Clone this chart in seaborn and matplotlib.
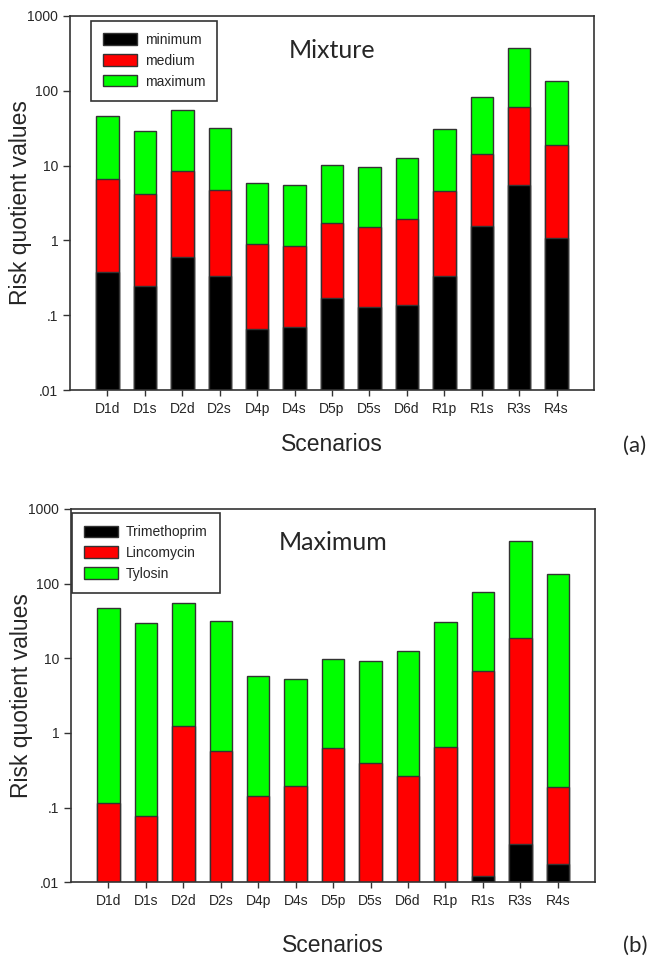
import numpy as np
import matplotlib.pyplot as plt
import pandas as pd
import seaborn as sns
from matplotlib.patches import Patch

scenarios = ["D1d", "D1s", "D2d", "D2s", "D4p", "D4s", "D5p", "D5s", "D6d", "R1p", "R1s", "R3s", "R4s"]

# panel (a): mixture risk quotients
mix_min = [0.38, 0.243, 0.605, 0.33, 0.066, 0.069, 0.169, 0.128, 0.138, 0.33, 1.55, 5.55, 1.07]
mix_med = [6.6, 4.12, 8.36, 4.76, 0.893, 0.849, 1.72, 1.51, 1.91, 4.57, 14.3, 61.2, 18.8]
mix_max = [46.4, 29.0, 55.8, 32.1, 5.84, 5.44, 10.3, 9.55, 12.7, 30.8, 82.5, 376, 133.6]

# panel (b): maximum scenario per compound (trimethoprim below .01 where nan)
trimethoprim = [np.nan] * 10 + [0.0123, 0.033, 0.0174]
lincomycin = [0.117, 0.078, 1.24, 0.58, 0.145, 0.193, 0.636, 0.393, 0.263, 0.656, 6.7, 18.7, 0.189]
tylosin = [47.7, 29.7, 55.1, 31.9, 5.8, 5.28, 9.8, 9.2, 12.7, 30.3, 76.6, 369, 133]

ytick_vals = [0.01, 0.1, 1, 10, 100, 1000]
ytick_labels = [".01", ".1", "1", "10", "100", "1000"]

sns.set_style("ticks")
plt.rcParams['font.family'] = ['Liberation Sans', 'DejaVu Sans']

edge = "#333333"
fig = plt.figure(figsize=(6.52, 9.58), dpi=100)
ax1 = fig.add_axes([0.1074, 0.5929, 0.8037, 0.3904])
ax2 = fig.add_axes([0.1089, 0.0790, 0.8041, 0.3897])


def panel(ax, layers, title, anchor, xlab_y):
    # tallest layer first so the smaller ones sit on top of it
    for vals, col, name in layers:
        df = pd.DataFrame({"scenario": scenarios, "value": vals})
        sns.barplot(data=df, x="scenario", y="value", color=col, saturation=1,
                    width=0.6, edgecolor=edge, linewidth=1, ax=ax)
    ax.set_yscale("log")
    ax.set_ylim(0.01, 1000)
    ax.set_xlim(-1, 13)
    ax.set_yticks(ytick_vals)
    ax.set_yticklabels(ytick_labels)
    ax.minorticks_off()
    ax.tick_params(axis="y", direction="out", length=5, width=1, color=edge, labelsize=10, pad=3.5)
    ax.tick_params(axis="x", direction="out", length=4.5, width=1, color=edge, labelsize=10, pad=4)
    for s in ax.spines.values():
        s.set_visible(True)
        s.set_color(edge)
        s.set_linewidth(1.2)
    ax.set_ylabel("Risk quotient values", fontsize=16.5)
    ax.set_xlabel("Scenarios", fontsize=16.5)
    ax.yaxis.set_label_coords(-0.073, 0.5)
    ax.xaxis.set_label_coords(0.5, xlab_y)
    ax.text(0.5, 0.909, title, transform=ax.transAxes, ha="center", va="center",
            fontsize=18, family=["Lato", "DejaVu Sans"])
    handles = [Patch(facecolor=c, edgecolor=edge, linewidth=1, label=n) for _, c, n in layers[::-1]]
    leg = ax.legend(handles=handles, loc="upper left", bbox_to_anchor=anchor, borderaxespad=0,
                    fontsize=10, handlelength=2.45, handleheight=0.86, handletextpad=0.6,
                    labelspacing=0.5, borderpad=0.85, fancybox=False, framealpha=1, edgecolor=edge)
    leg.get_frame().set_linewidth(1.2)


panel(ax1, [(mix_max, "#00ff00", "maximum"), (mix_med, "#ff0000", "medium"), (mix_min, "#000000", "minimum")],
      "Mixture", (0.0395, 0.9866), -0.115)
panel(ax2, [(tylosin, "#00ff00", "Tylosin"), (lincomycin, "#ff0000", "Lincomycin"), (trimethoprim, "#000000", "Trimethoprim")],
      "Maximum", (0.002, 0.989), -0.1385)

fig.text(0.955, 0.5344, "(a)", ha="left", va="center", fontsize=16, family=["Lato", "DejaVu Sans"])
fig.text(0.955, 0.013, "(b)", ha="left", va="center", fontsize=16, family=["Lato", "DejaVu Sans"])

fig.savefig("out.png", dpi=100)
